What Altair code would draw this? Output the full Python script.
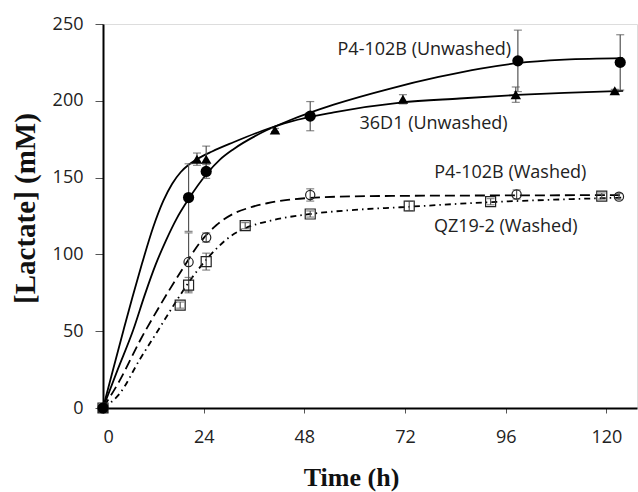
import altair as alt
import pandas as pd

# ---- measured points (time in h, lactate in mM, error = +/- half range) ----
p4u_t = [0, 20.4, 24.6, 49.4, 98.9, 123.3]
p4u_y = [0, 137, 154, 190, 226, 225]
p4u_err = [0, 22, 4.5, 9.5, 20, 18]

d36_t = [0, 22.4, 24.6, 41.0, 71.5, 98.4, 122.0]
d36_y = [0, 162, 162, 181, 201, 204, 206.5]
d36_err = [0, 4, 8.5, 1, 3, 5, 1]

p4w_t = [0, 20.4, 24.6, 49.4, 98.6, 123.0]
p4w_y = [0, 95, 111, 138.7, 139, 137.6]
p4w_err = [0, 19, 3, 4, 3, 2]

qz_t = [0, 18.4, 20.4, 24.6, 33.9, 49.4, 73.0, 92.4, 118.9]
qz_y = [0, 67, 80, 95.3, 118.7, 126.3, 131.5, 134.3, 138]
qz_err = [0, 2, 5, 5.5, 2, 2, 3, 2, 2]

# ---- fitted curves ----
fit_d36_t = [0, 2.5, 4.9, 7, 9.3, 12, 14.4, 16.5, 18.5, 20.5, 22.4, 26, 31.1, 38, 44.7,
             55, 70.9, 85, 98.7, 110, 124]
fit_d36_y = [0, 26, 50.8, 72, 94, 118, 135, 146, 153.5, 158.5, 162, 167, 173, 180.5, 186.5,
             192.5, 198.8, 201.5, 203.8, 205.2, 206.5]

fit_p4u_t = [0, 3.5, 7.2, 10, 12.5, 15, 17.5, 20.4, 24.6, 28, 31.1, 38, 44.7, 55, 68.5,
             80, 90, 98.7, 110, 124]
fit_p4u_y = [0, 25, 50.8, 74, 93, 109, 123, 136, 152, 162, 168.5, 179.5, 187.5, 197.5, 208,
             215.5, 221, 224.5, 226.8, 227.8]

fit_p4w_t = [0, 4, 8.9, 13, 18.8, 23.2, 27, 31.1, 35, 39.1, 44, 49.4, 60, 70.9, 96, 124]
fit_p4w_y = [0, 18, 44.3, 64, 89.8, 108, 119, 126.5, 130.5, 133.3, 135.5, 136.8, 137.8,
             138.1, 138.4, 138.6]

fit_qz_t = [0, 4.1, 8.7, 13, 17.2, 21, 24.6, 27.5, 30.5, 33.9, 40, 49.4, 60, 70.9, 91.5,
            117.7, 124]
fit_qz_y = [0, 9.8, 31.3, 50, 68.4, 84, 96.5, 105, 112, 117, 122, 126.3, 129, 130.7, 133.9,
            136.5, 137]

# ---- curve labels ----
lab_text = ["P4-102B (Unwashed)", "36D1 (Unwashed)", "P4-102B (Washed)", "QZ19-2 (Washed)"]
lab_t = [76.6, 78.8, 97.1, 96.0]
lab_y = [233, 184.9, 152.8, 118]

X_MAX = 127.3
FONT = "Open Sans"

xs = alt.Scale(domain=[0, X_MAX], nice=False, zero=False)
ys = alt.Scale(domain=[0, 250], nice=False)


def pts(t, y, e):
    return pd.DataFrame({"t": t, "y": y, "lo": [a - b for a, b in zip(y, e)],
                         "hi": [a + b for a, b in zip(y, e)], "e": e})


def curve(t, y, dash):
    df = pd.DataFrame({"t": t, "y": y})
    kw = dict(color="black", strokeWidth=1.8, interpolate="monotone")
    if dash:
        kw["strokeDash"] = dash
    return alt.Chart(df).mark_line(**kw).encode(
        x=alt.X("t:Q", scale=xs), y=alt.Y("y:Q", scale=ys))


def errbars(df):
    d = df[df.e > 0]
    base = alt.Chart(d)
    rule = base.mark_rule(color="#555", strokeWidth=1.2).encode(
        x=alt.X("t:Q", scale=xs), y=alt.Y("lo:Q", scale=ys), y2="hi:Q")
    cap_lo = base.mark_tick(color="#555", orient="horizontal", size=8, thickness=1.2).encode(
        x=alt.X("t:Q", scale=xs), y=alt.Y("lo:Q", scale=ys))
    cap_hi = base.mark_tick(color="#555", orient="horizontal", size=8, thickness=1.2).encode(
        x=alt.X("t:Q", scale=xs), y=alt.Y("hi:Q", scale=ys))
    return rule + cap_lo + cap_hi


def markers(df, shape, filled, size):
    if filled:
        m = alt.Chart(df).mark_point(shape=shape, filled=True, color="black", size=size, opacity=1)
    else:
        m = alt.Chart(df).mark_point(shape=shape, filled=False, color="#222", size=size,
                                     strokeWidth=1.2, opacity=1)
    return m.encode(x=alt.X("t:Q", scale=xs), y=alt.Y("y:Q", scale=ys))


p4u = pts(p4u_t, p4u_y, p4u_err)
d36 = pts(d36_t, d36_y, d36_err)
p4w = pts(p4w_t, p4w_y, p4w_err)
qz = pts(qz_t, qz_y, qz_err)

axes = alt.Chart(pd.DataFrame({"t": [0], "y": [0]})).mark_point(opacity=0).encode(
    x=alt.X("t:Q", scale=xs, title="Time (h)",
            axis=alt.Axis(values=[0, 24, 48, 72, 96, 120], grid=False,
                          domainColor="black", domainWidth=2,
                          tickColor="#555", tickSize=5, tickWidth=1,
                          labelFont=FONT, labelFontSize=18, labelColor="#222", labelPadding=15,
                          titleFont="Liberation Serif", titleFontSize=26, titleFontWeight="bold",
                          titleColor="#111", titleX=248, titleY=77, titleBaseline="alphabetic",
                          titleAnchor="start", titleAlign="center")),
    y=alt.Y("y:Q", scale=ys, title="[Lactate] (mM)",
            axis=alt.Axis(values=[0, 50, 100, 150, 200, 250], grid=False,
                          domainColor="black", domainWidth=2,
                          tickColor="#555", tickSize=8, tickWidth=1,
                          labelFont=FONT, labelFontSize=18, labelColor="#222", labelPadding=12,
                          titleFont="Liberation Serif", titleFontSize=29, titleFontWeight="bold",
                          titleColor="#111", titleAngle=-90, titleX=-69, titleY=184,
                          titleBaseline="alphabetic", titleAlign="center")),
)

labels = alt.Chart(pd.DataFrame({"t": lab_t, "y": lab_y, "txt": lab_text})).mark_text(
    font=FONT, fontSize=18, color="#222", align="center", baseline="middle").encode(
    x=alt.X("t:Q", scale=xs), y=alt.Y("y:Q", scale=ys), text="txt:N")

chart = alt.layer(
    axes,
    curve(fit_d36_t, fit_d36_y, None),
    curve(fit_p4u_t, fit_p4u_y, None),
    curve(fit_p4w_t, fit_p4w_y, [10, 5]),
    curve(fit_qz_t, fit_qz_y, [6, 4, 1.5, 4]),
    errbars(p4u), errbars(d36), errbars(p4w), errbars(qz),
    markers(p4w, "circle", False, 85),
    markers(qz, "square", False, 100),
    markers(d36, "triangle-up", True, 110),
    markers(p4u, "circle", True, 125),
    labels,
).properties(
    width=534, height=384,
    padding={"left": 103, "top": 24, "right": 1, "bottom": 84},
    autosize=alt.AutoSizeParams(type="none"),
).configure_view(stroke="#555", strokeWidth=1).configure(background="white")

chart.save("out.html", embed_options={"renderer": "svg", "actions": False})
